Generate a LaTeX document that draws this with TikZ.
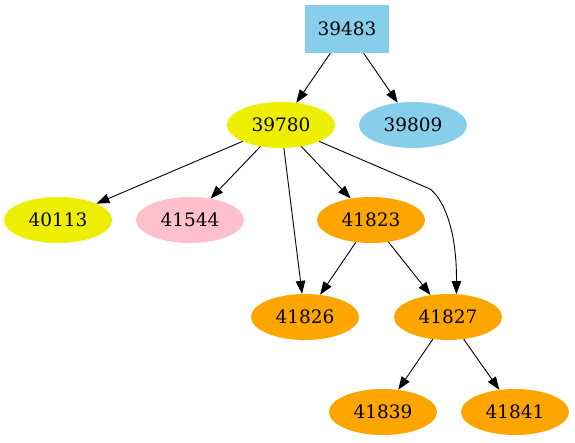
\documentclass[tikz,border=0pt]{standalone}
\usepackage{fontspec}
\setmainfont{DejaVu Serif}
\usetikzlibrary{arrows.meta,shapes.geometric}
\definecolor{skyblue}{RGB}{135,206,235}
\definecolor{yellowtwo}{RGB}{238,238,0}
\definecolor{pinkc}{RGB}{255,192,203}
\definecolor{orangec}{RGB}{255,165,0}
\begin{document}
\begin{tikzpicture}[x=1pt, y=-1pt,
  every node/.style={font=\fontsize{18.5}{22}\selectfont},
  ell/.style={ellipse, minimum width=108pt, minimum height=46pt, inner sep=0pt},
  boxnode/.style={rectangle, minimum width=84pt, minimum height=48pt, inner sep=0pt},
  edge/.style={-{Triangle[length=13pt,width=9.5pt]}, line width=0.9pt}]
  \useasboundingbox (0,0) rectangle (575,443);
  \node[boxnode, fill=skyblue] (n39483) at (347,29) {39483};
  \node[ell, fill=yellowtwo] (n39780) at (281,125) {39780};
  \node[ell, fill=skyblue] (n39809) at (413,125) {39809};
  \node[ell, fill=yellowtwo] (n40113) at (58,220) {40113};
  \node[ell, fill=pinkc] (n41544) at (190,220) {41544};
  \node[ell, fill=orangec] (n41823) at (371,220) {41823};
  \node[ell, fill=orangec] (n41826) at (305,317) {41826};
  \node[ell, fill=orangec] (n41827) at (448,317) {41827};
  \node[ell, fill=orangec] (n41839) at (383,412) {41839};
  \node[ell, fill=orangec] (n41841) at (515,412) {41841};
  \coordinate (bend) at (430,189);
  % edges
  \draw[edge] (n39483) -- (n39780);
  \draw[edge] (n39483) -- (n39809);
  \draw[edge] (n39780) -- (n40113);
  \draw[edge] (n39780) -- (n41544);
  \draw[edge] (n39780) -- (n41823);
  \draw[edge] (n39780) -- (n41826);
  \draw[edge] (n39780) -- (bend) .. controls (441,197) and (457,225) .. (n41827.70);
  \draw[edge] (n41823) -- (n41826);
  \draw[edge] (n41823) -- (n41827);
  \draw[edge] (n41827) -- (n41839);
  \draw[edge] (n41827) -- (n41841);
\end{tikzpicture}
\end{document}
